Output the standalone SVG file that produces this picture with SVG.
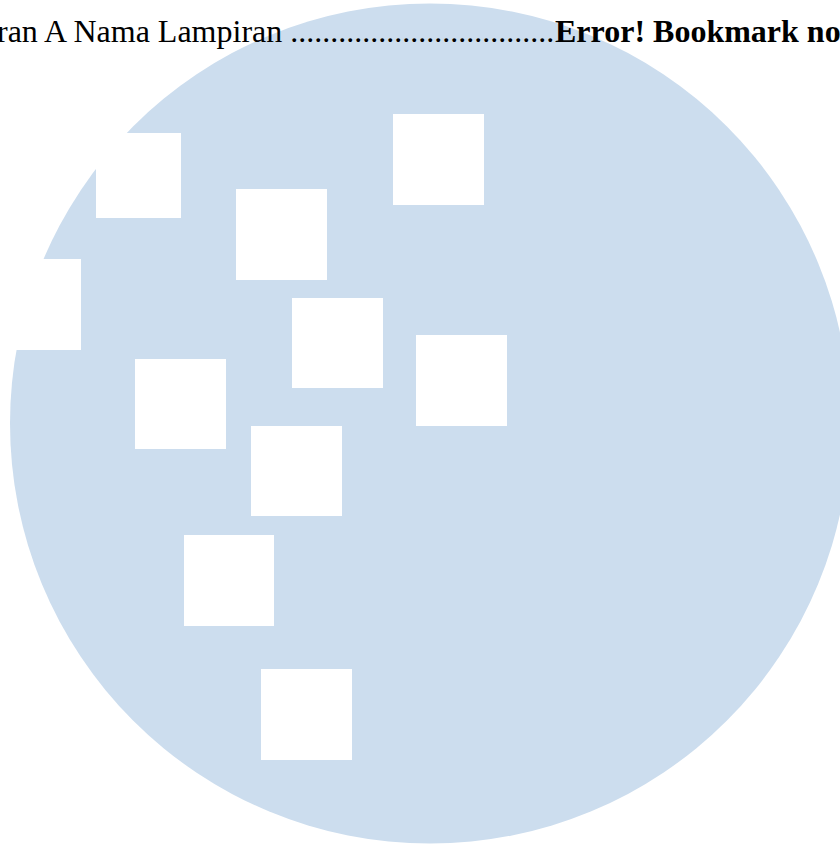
<svg xmlns="http://www.w3.org/2000/svg" width="840" height="844" viewBox="0 0 840 844">
<style>
.sq{fill:#fff}
.t{font-family:"Liberation Serif","Times New Roman",serif;font-size:32px;fill:#000}
.b{font-weight:bold}
</style>
<rect width="840" height="844" fill="#fff"/>
<circle id="disc" cx="430" cy="423.5" r="420" fill="#ccddee"/>
<g id="squares">
<rect id="s1" class="sq" x="96" y="133" width="85" height="85"/>
<rect id="s2" class="sq" x="236" y="189" width="91" height="91"/>
<rect id="s3" class="sq" x="393" y="114" width="91" height="91"/>
<rect id="s4" class="sq" x="0" y="259" width="81" height="91"/>
<rect id="s5" class="sq" x="292" y="298" width="91" height="90"/>
<rect id="s6" class="sq" x="416" y="335" width="91" height="91"/>
<rect id="s7" class="sq" x="135" y="359" width="91" height="90"/>
<rect id="s8" class="sq" x="251" y="426" width="91" height="90"/>
<rect id="s9" class="sq" x="184" y="535" width="90" height="91"/>
<rect id="s10" class="sq" x="261" y="669" width="91" height="91"/>
</g>
<text class="t" x="-3" y="42">ran A Nama Lampiran .................................<tspan class="b" x="555">Error! Bookmark no</tspan></text>
</svg>
